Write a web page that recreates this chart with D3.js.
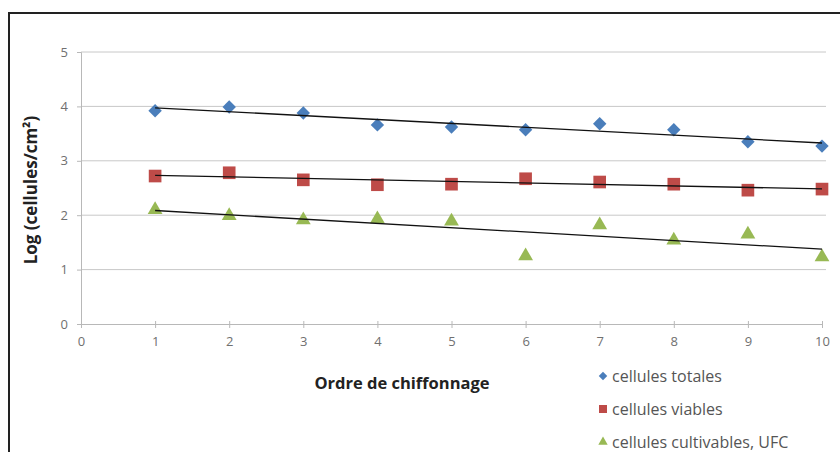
<!DOCTYPE html>
<html lang="fr">
<head>
<meta charset="UTF-8">
<title>Log cellules / ordre de chiffonnage</title>
<script src="https://d3js.org/d3.v7.min.js"></script>
<style>
    body, html { margin: 0; padding: 0; background: #fff; overflow: hidden; }
    svg { display: block; }
</style>
</head>
<body>
<div id="chart"></div>
<script>
// data
const orders = [1, 2, 3, 4, 5, 6, 7, 8, 9, 10];
const totales = [3.92, 3.99, 3.88, 3.66, 3.62, 3.57, 3.68, 3.57, 3.35, 3.27];
const viables = [2.72, 2.78, 2.65, 2.56, 2.57, 2.67, 2.61, 2.57, 2.46, 2.48];
const cultivables = [2.10, 1.99, 1.91, 1.93, 1.89, 1.25, 1.82, 1.54, 1.65, 1.23];
const seriesNames = ["cellules totales", "cellules viables", "cellules cultivables, UFC"];
const xTicks = [0, 1, 2, 3, 4, 5, 6, 7, 8, 9, 10];
const yTicks = [0, 1, 2, 3, 4, 5];

const W = 840, H = 452;
const font = "'Open Sans', 'Liberation Sans', sans-serif";

const svg = d3.select("#chart").append("svg")
    .attr("width", W).attr("height", H);

// outer frame (runs off the right and bottom edges)
svg.append("rect")
    .attr("x", 9).attr("y", 13)
    .attr("width", W + 20).attr("height", H + 20)
    .attr("fill", "#fff").attr("stroke", "#222").attr("stroke-width", 2);

const x = d3.scaleLinear().domain([0, 10]).range([81, 822]);
const y = d3.scaleLinear().domain([0, 5]).range([324, 52]);

// gridlines
svg.append("g").selectAll("line")
    .data(yTicks.slice(1))
    .join("line")
    .attr("x1", x(0)).attr("x2", x(10) + 4)
    .attr("y1", d => y(d)).attr("y2", d => y(d))
    .attr("stroke", "#c8c8c8").attr("stroke-width", 1);

// axes
const yAxis = svg.append("g")
    .attr("transform", `translate(${x(0)},0)`)
    .call(d3.axisLeft(y).tickValues(yTicks).tickFormat(d3.format("d")).tickSize(4).tickPadding(9));
const xAxis = svg.append("g")
    .attr("transform", `translate(0,${y(0)})`)
    .call(d3.axisBottom(x).tickValues(xTicks).tickFormat(d3.format("d")).tickSize(4).tickPadding(9));

[xAxis, yAxis].forEach(g => {
    g.select(".domain").attr("stroke", "#b8b8b8");
    g.selectAll(".tick line").attr("stroke", "#b8b8b8");
    g.selectAll(".tick text")
        .attr("fill", "#707070").attr("font-family", font).attr("font-size", 13);
});
xAxis.selectAll(".tick line").attr("y1", -3);

// axis titles
svg.append("text")
    .attr("x", 402).attr("y", 389)
    .attr("text-anchor", "middle")
    .attr("font-family", font).attr("font-weight", "bold").attr("font-size", 16.5)
    .attr("fill", "#222")
    .text("Ordre de chiffonnage");

svg.append("text")
    .attr("transform", "translate(37,190) rotate(-90)")
    .attr("text-anchor", "middle")
    .attr("font-family", font).attr("font-weight", "bold").attr("font-size", 17)
    .attr("fill", "#222")
    .text("Log (cellules/cm²)");

// series
const series = [
    { name: seriesNames[0], values: totales, color: "#4a7ebb", symbol: d3.symbolSquare, size: 90, rot: 45 },
    { name: seriesNames[1], values: viables, color: "#be4b48", symbol: d3.symbolSquare, size: 160, rot: 0 },
    { name: seriesNames[2], values: cultivables, color: "#98b954", symbol: d3.symbolTriangle, size: 95, rot: 0 }
];

function linearFit(xs, ys) {
    const mx = d3.mean(xs), my = d3.mean(ys);
    const b = d3.sum(xs, (v, i) => (v - mx) * (ys[i] - my)) / d3.sum(xs, v => (v - mx) * (v - mx));
    return { a: my - b * mx, b: b };
}

series.forEach(s => {
    svg.append("g").selectAll("path")
        .data(s.values)
        .join("path")
        .attr("transform", (d, i) => `translate(${x(orders[i])},${y(d)}) rotate(${s.rot})`)
        .attr("d", d3.symbol().type(s.symbol).size(s.size))
        .attr("fill", s.color);
});

// linear trend lines drawn over the markers
series.forEach(s => {
    const fit = linearFit(orders, s.values);
    const x0 = d3.min(orders), x1 = d3.max(orders);
    svg.append("line")
        .attr("x1", x(x0)).attr("y1", y(fit.a + fit.b * x0))
        .attr("x2", x(x1)).attr("y2", y(fit.a + fit.b * x1))
        .attr("stroke", "#111").attr("stroke-width", 1.3);
});

// legend
const legend = svg.append("g").selectAll("g")
    .data(series)
    .join("g")
    .attr("transform", (d, i) => `translate(603,${376 + i * 33})`);
legend.append("path")
    .attr("transform", d => `rotate(${d.rot})`)
    .attr("d", d => d3.symbol().type(d.symbol).size(d.size * 0.4)())
    .attr("fill", d => d.color);
legend.append("text")
    .attr("x", 9).attr("y", 5.5)
    .attr("font-family", font).attr("font-size", 16)
    .attr("fill", "#555")
    .text(d => d.name);
</script>
</body>
</html>
